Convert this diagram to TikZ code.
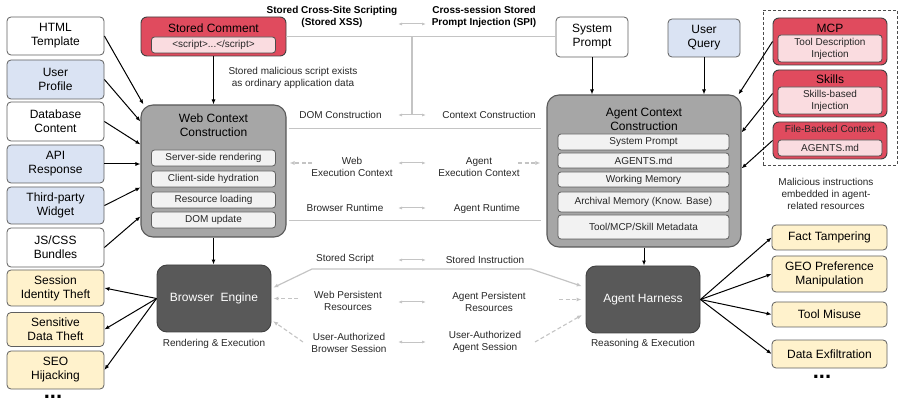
\documentclass[tikz,border=0pt]{standalone}
\usepackage{fontspec}
\setmainfont{Liberation Sans}
\usetikzlibrary{arrows.meta}
\definecolor{srcblue}{HTML}{DAE3F3}
\definecolor{harmyellow}{HTML}{FFF2CC}
\definecolor{attackred}{HTML}{E04B5E}
\definecolor{attackpink}{HTML}{FADCE0}
\definecolor{ctxgray}{HTML}{A6A6A6}
\definecolor{itemgray}{HTML}{F2F2F2}
\definecolor{enginegray}{HTML}{595959}
\definecolor{linkgray}{HTML}{C4C4C4}
\definecolor{boxline}{HTML}{5F5F5F}

\begin{document}
\begin{tikzpicture}[x=1pt, y=-1pt,
  every node/.style={font=\fontsize{10}{12}\selectfont, align=center, inner sep=0pt, text=black!85},
  big/.style={font=\fontsize{12}{14}\selectfont, text=black},
  srcbox/.style={big, draw=boxline, line width=0.8pt, rounded corners=4pt, minimum width=97pt},
  redbox/.style={draw=black!75, fill=attackred, line width=0.9pt, rounded corners=6pt},
  pinkbox/.style={draw=black!70, fill=attackpink, line width=0.8pt, rounded corners=3pt},
  ctxbox/.style={draw=black!65, fill=ctxgray, line width=1.1pt, rounded corners=12pt},
  ctxtitle/.style={big},
  itembox/.style={draw=boxline, fill=itemgray, line width=0.8pt, rounded corners=3pt},
  engbox/.style={big, text=white, draw=black!75, fill=enginegray, line width=0.9pt, rounded corners=10pt, minimum width=114pt, minimum height=67pt},
  moredots/.style={font=\fontsize{22}{22}\selectfont\bfseries, text=black},
  arr/.style={-{Latex[length=5pt, width=4pt]}, line width=1pt, black},
  glink/.style={draw=linkgray, line width=1.2pt},
  gtip/.style={{Latex[length=5pt, width=4pt]}-{Latex[length=5pt, width=4pt]}, draw=linkgray, line width=1.2pt},
  gdash/.style={-{Latex[length=5pt, width=4pt]}, draw=linkgray, line width=1.1pt, dash pattern=on 4pt off 2.5pt},
  pairarr/.style={{Latex[length=4pt, width=3pt]}-{Latex[length=4pt, width=3pt]}, draw=linkgray, line width=1pt}]
  \useasboundingbox (0,0) rectangle (903,406);

  % inputs on the left
  \node[srcbox, fill=white, minimum height=38pt] (html) at (55.5,36) {HTML\\Template};
  \node[srcbox, fill=srcblue, minimum height=39pt] (prof) at (55.5,79.5) {User\\Profile};
  \node[srcbox, fill=white, minimum height=39pt] (db) at (55.5,121.5) {Database\\Content};
  \node[srcbox, fill=srcblue, minimum height=38pt] (api) at (55.5,164) {API\\Response};
  \node[srcbox, fill=srcblue, minimum height=37pt] (widget) at (55.5,205.5) {Third-party\\Widget};
  \node[srcbox, fill=white, minimum height=39pt] (bundles) at (55.5,247.5) {JS/CSS\\Bundles};

  % harms on the left
  \node[srcbox, fill=harmyellow, minimum height=36pt] (sessth) at (55.5,288) {Session\\Identity Theft};
  \node[srcbox, fill=harmyellow, minimum height=34pt] (datath) at (55.5,329.5) {Sensitive\\Data Theft};
  \node[srcbox, fill=harmyellow, minimum height=38pt] (seo) at (55.5,370) {SEO\\Hijacking};
  \node[moredots] (moreleft) at (53,397) {...};

  % stored comment
  \node[redbox, minimum width=145pt, minimum height=39pt] (cmt) at (213.5,36.5) {};
  \node[big] (cmttitle) at (213.5,28) {Stored Comment};
  \node[pinkbox, minimum width=124pt, minimum height=16pt] (cmtin) at (213.5,45) {<script>...</script>};
  \node (cmtnote) at (293,78) {Stored malicious script exists\\as ordinary application data};

  % web side
  \node[ctxbox, minimum width=145pt, minimum height=132pt] (web) at (213.5,171) {};
  \node[ctxtitle] (webtitle) at (213.5,125.5) {Web Context\\Construction};
  \foreach \n/\y/\t in {ssr/158/Server-side rendering, hyd/179/Client-side hydration,
                        resload/200/Resource loading, domup/220/DOM update}
    \node[itembox, minimum width=124pt, minimum height=16pt] (\n) at (213.5,\y) {\t};
  \node[engbox] (eng) at (214,298.5) {Browser\ \ Engine};
  \node (englbl) at (214,344) {Rendering \& Execution};

  % agent side
  \node[srcbox, fill=white, minimum width=72pt, minimum height=40pt] (sysp) at (592,37) {System\\Prompt};
  \node[srcbox, fill=srcblue, minimum width=72pt, minimum height=38pt] (userq) at (704,38) {User\\Query};
  \node[ctxbox, minimum width=194pt, minimum height=152pt] (agent) at (644,171) {};
  \node[ctxtitle] (agenttitle) at (644,119.5) {Agent Context\\Construction};
  \foreach \n/\y/\h/\t in {sprompt/142/16/System Prompt, agmd/160.5/15/AGENTS.md,
                           wmem/179.5/15/Working Memory, amem/202/20/{Archival Memory (Know. Base)},
                           meta/227/24/{Tool/MCP/Skill Metadata}}
    \node[itembox, minimum width=171pt, minimum height=\h pt] (\n) at (643.5,\y) {\t};
  \node[engbox] (harness) at (643,299.5) {Agent Harness};
  \node (harnlbl) at (643,344) {Reasoning \& Execution};

  % agent-related resources
  \node[draw=black!70, line width=0.8pt, dash pattern=on 3pt off 2pt, minimum width=134pt, minimum height=155pt] (resframe) at (830,87.5) {};
  \node[redbox, minimum width=114pt, minimum height=47pt] (mcp) at (830,41.5) {};
  \node[big] (mcptitle) at (830,28) {MCP};
  \node[pinkbox, minimum width=104pt, minimum height=27pt] (mcpin) at (830,48.5) {Tool Description\\Injection};
  \node[redbox, minimum width=114pt, minimum height=47pt] (skills) at (830,93.5) {};
  \node[big] (skilltitle) at (830,79.5) {Skills};
  \node[pinkbox, minimum width=104pt, minimum height=27pt] (skillin) at (830,100.5) {Skills-based\\Injection};
  \node[redbox, minimum width=114pt, minimum height=37pt] (filectx) at (830,140.5) {};
  \node (filetitle) at (830,129) {File-Backed Context};
  \node[pinkbox, minimum width=104pt, minimum height=16pt] (filein) at (830,148) {AGENTS.md};
  \node (resnote) at (826,193.5) {Malicious instructions\\embedded in agent-\\related resources};

  % harms on the right
  \node[srcbox, fill=harmyellow, minimum width=115pt, minimum height=25pt] (fact) at (829.5,237.5) {Fact Tampering};
  \node[srcbox, fill=harmyellow, minimum width=115pt, minimum height=36pt] (geo) at (829.5,274) {GEO Preference\\Manipulation};
  \node[srcbox, fill=harmyellow, minimum width=115pt, minimum height=25pt] (misuse) at (829.5,314.5) {Tool Misuse};
  \node[srcbox, fill=harmyellow, minimum width=115pt, minimum height=28pt] (exfil) at (829.5,354) {Data Exfiltration};
  \node[moredots] (moreright) at (822,377) {...};

  % black arrows
  \draw[arr] (html.east) -- ([xshift=3pt]web.north west);
  \draw[arr] (prof.east) -- ([yshift=-17pt]web.north west);
  \draw[arr] (db.east) -- ([yshift=-40pt]web.north west);
  \draw[arr] (api.east) -- (api.east -| web.west);
  \draw[arr] (widget.east) -- ([yshift=-83pt]web.north west);
  \draw[arr] (bundles.east) -- ([yshift=-112pt]web.north west);
  \draw[arr] (cmt.south) -- (web.north);
  \draw[arr] (web.south) -- (web.south |- eng.north);
  \draw[arr] (sysp.south) -- (sysp.south |- agent.north);
  \draw[arr] (userq.south) -- (userq.south |- agent.north);
  \draw[arr] (agent.south) -- (agent.south |- harness.north);
  \draw[arr] (mcp.west) -- ([xshift=-3pt]agent.north east);
  \draw[arr] (skills.west) -- ([yshift=-38pt]agent.north east);
  \draw[arr] (filectx.west) -- ([yshift=-74pt]agent.north east);
  \foreach \t in {sessth,datath,seo}
    \draw[arr] (eng.west) -- (\t.east);
  \foreach \t in {fact,geo,misuse,exfil}
    \draw[arr] (harness.east) -- (\t.west);

  % web vs. agent correspondences
  \node[font=\fontsize{10}{12}\selectfont\bfseries, text=black] (xsslbl) at (332,17) {Stored Cross-Site Scripting\\(Stored XSS)};
  \node[font=\fontsize{10}{12}\selectfont\bfseries, text=black] (spilbl) at (484,17) {Cross-session Stored\\Prompt Injection (SPI)};
  \node (domlbl) at (340.5,115) {DOM Construction};
  \node (ctxlbl) at (489,115) {Context Construction};
  \node (wexlbl) at (352,167) {Web\\Execution Context};
  \node (aexlbl) at (479,167) {Agent\\Execution Context};
  \node (brlbl) at (345,208) {Browser Runtime};
  \node (arlbl) at (487,209) {Agent Runtime};
  \node (sslbl) at (345,259) {Stored Script};
  \node (silbl) at (485,260) {Stored Instruction};
  \node (wprlbl) at (348,300.5) {Web Persistent\\Resources};
  \node (aprlbl) at (489,302) {Agent Persistent\\Resources};
  \node (uablbl) at (349,342.5) {User-Authorized\\Browser Session};
  \node (uaalbl) at (485,342) {User-Authorized\\Agent Session};
  \foreach \y/\n in {24/a,115/b,163/c,208/d,260/e,302/f,342/g} {
    \coordinate (pl\n) at (398,\y);
    \coordinate (pr\n) at (426,\y);
    \draw[pairarr] (pl\n) -- (pr\n);
  }

  % grey links
  \coordinate (split) at (412,36.5);
  \draw[glink] (cmt.east) -- (cmt.east -| sysp.west);
  \draw[glink] (split) -- (split |- plb);
  \draw[glink, shorten <=2pt, shorten >=5pt] ([yshift=-24pt]web.north east) -- ([yshift=-24pt]web.north east -| agent.west);
  \draw[glink, shorten <=2pt, shorten >=5pt] ([yshift=-116pt]web.north east) -- ([yshift=-116pt]web.north east -| agent.west);
  \coordinate (ssl) at (312,269);
  \coordinate (ssr) at (531,269);
  \draw[gtip, shorten <=2pt, shorten >=4pt] ([yshift=10pt]eng.east) -- (ssl) -- (ssr) -- ([yshift=12pt]harness.west);
  \coordinate (wexl) at (312,163);
  \coordinate (wexr) at (518,163);
  \draw[gdash, shorten >=3pt] (wexl) -- (wexl -| web.east);
  \draw[gdash, shorten >=6pt] (wexr) -- (wexr -| agent.west);
  \coordinate (wprl) at (298,298.5);
  \coordinate (wprr) at (559,299.5);
  \draw[gdash, shorten >=2pt] (wprl) -- (eng.east);
  \draw[gdash, shorten >=4pt] (wprr) -- (harness.west);
  \coordinate (uabl) at (303,342);
  \coordinate (uabr) at (535,342);
  \draw[gdash, shorten >=2pt] (uabl) -- ([yshift=-21.5pt]eng.east);
  \draw[gdash, shorten >=4pt] (uabr) -- ([yshift=-13.5pt]harness.west);
\end{tikzpicture}
\end{document}
